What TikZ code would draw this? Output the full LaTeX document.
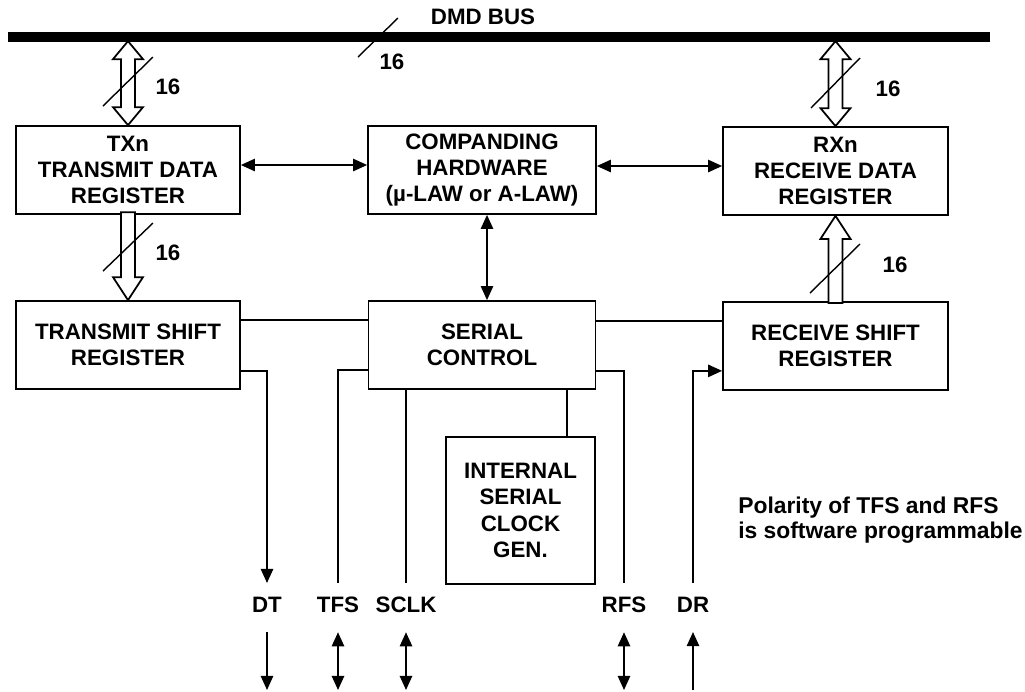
\documentclass[tikz,border=0pt]{standalone}
\usepackage{fontspec}
\setmainfont{Liberation Sans}
\usetikzlibrary{arrows.meta,positioning,calc}

\begin{document}
\begin{tikzpicture}[x=0.02cm,y=-0.02cm,
  block/.style={draw,line width=1pt,align=center,inner sep=0pt,
    minimum height=1.76cm,font=\bfseries\fontsize{12.7}{15}\selectfont},
  label/.style={font=\bfseries\fontsize{12.7}{15}\selectfont,inner xsep=0pt,inner ysep=0.28cm},
  sig/.style={line width=1pt},
  tip/.style={-{Triangle[length=8pt,width=7pt]}},
  dbl/.style={{Triangle[length=8pt,width=7pt]}-{Triangle[length=8pt,width=7pt]}},
  hollow/.style={line width=1pt,fill=white,line join=miter},
  slash/.style={line width=0.8pt}
]
\useasboundingbox (0,0) rectangle (1025,691);

\coordinate (busL) at (8,37);
\coordinate (busR) at (990,37);
\coordinate (bot) at (0,690);
\draw[line width=0.2cm] (busL) -- (busR);
\node[label,inner ysep=0pt] (busname) at (483,17) {DMD BUS};
\draw[slash] (398,18) -- (358,57);
\node[label,inner ysep=0pt] (bus16) at (392,62) {16};

\node[block,minimum width=4.48cm] (txd) at (128,170) {TXn\\TRANSMIT DATA\\REGISTER};
\node[block,minimum width=4.56cm] (cmp) at (482,170) {COMPANDING\\HARDWARE\\(µ-LAW or A-LAW)};
\node[block,minimum width=4.5cm] (rxd) at (835.5,171) {RXn\\RECEIVE DATA\\REGISTER};
\node[block,minimum width=4.48cm] (tsr) at (128,345) {TRANSMIT SHIFT\\REGISTER};
\node[block,minimum width=4.54cm] (sc) at (482,345) {SERIAL\\CONTROL};
\node[block,minimum width=4.5cm] (rsr) at (835.5,346) {RECEIVE SHIFT\\REGISTER};
\node[block,minimum width=2.98cm,minimum height=2.94cm] (clk) at (520.5,510.5)
  {INTERNAL\\SERIAL\\CLOCK\\GEN.};

\draw[hollow] (txd.north) -- ++(-15,-18) -- ++(8,0) -- ++(0,-48) -- ++(-8,0)
  -- ++(15,-18) -- ++(15,18) -- ++(-8,0) -- ++(0,48) -- ++(8,0) -- cycle;
\draw[slash] (153,57) -- (103,106);
\node[label,inner ysep=0pt] (txbus16) at (168,87) {16};

\draw[hollow] (rxd.north) -- ++(-15,-18) -- ++(8,0) -- ++(0,-49) -- ++(-8,0)
  -- ++(15,-18) -- ++(15,18) -- ++(-8,0) -- ++(0,49) -- ++(8,0) -- cycle;
\draw[slash] (860,58) -- (811,108);
\node[label,inner ysep=0pt] (rxbus16) at (888,89) {16};

\draw[hollow] (tsr.north) -- ++(-15,-23) -- ++(8,0) -- ++(0,-65) -- ++(14,0)
  -- ++(0,65) -- ++(8,0) -- cycle;
\draw[slash] (153,223) -- (103,271);
\node[label,inner ysep=0pt] (tx16) at (168,253) {16};

\draw[hollow] (rxd.south) -- ++(-15,23) -- ++(8,0) -- ++(0,64) -- ++(14,0)
  -- ++(0,-64) -- ++(8,0) -- cycle;
\draw[slash] (860,244) -- (810,293);
\node[label,inner ysep=0pt] (rx16) at (895,265) {16};

\draw[sig,dbl] ($(txd.east)+(0,-5)$) -- ($(cmp.west)+(0,-5)$);
\draw[sig,dbl] ($(cmp.east)+(0,-4)$) -- ($(rxd.west)+(0,-5)$);
\draw[sig,dbl] ($(cmp.south)+(5,0)$) -- ($(sc.north)+(5,0)$);
\draw[sig] ($(tsr.north east)+(0,20)$) -- ($(sc.north west)+(0,20)$);
\draw[sig] ($(sc.north east)+(0,21)$) -- ($(rsr.north west)+(0,20)$);

\node[label] (dt) at (267,605) {DT};
\node[label] (tfs) at (338,605) {TFS};
\node[label] (sclk) at (406,605) {SCLK};
\node[label] (rfs) at (624,605) {RFS};
\node[label] (dr) at (693,605) {DR};

\draw[sig,tip] ($(tsr.south east)+(0,-19)$) -| (dt.north);
\draw[sig] ($(sc.south west)+(0,-20)$) -| (tfs.north);
\draw[sig] (sclk.north |- sc.south) -- (sclk.north);
\draw[sig] ($(clk.north east)+(-29,0)$) coordinate (k) -- (k |- sc.south);
\draw[sig] ($(sc.south east)+(0,-19)$) -| (rfs.north);
\draw[sig,tip] (dr.north) |- ($(rsr.south west)+(0,-20)$);

\draw[sig,tip] ([yshift=-0.1cm]dt.south) -- (dt.south |- bot);
\draw[sig,dbl] ([yshift=-0.1cm]tfs.south) -- (tfs.south |- bot);
\draw[sig,dbl] ([yshift=-0.1cm]sclk.south) -- (sclk.south |- bot);
\draw[sig,dbl] ([yshift=-0.1cm]rfs.south) -- (rfs.south |- bot);
\draw[sig,tip] (dr.south |- bot) -- ([yshift=-0.1cm]dr.south);

\node[font=\bfseries\fontsize{13}{14}\selectfont,align=left,anchor=west,inner sep=0pt]
  (note) at (738,520) {Polarity of TFS and RFS\\is software programmable};
\end{tikzpicture}
\end{document}
